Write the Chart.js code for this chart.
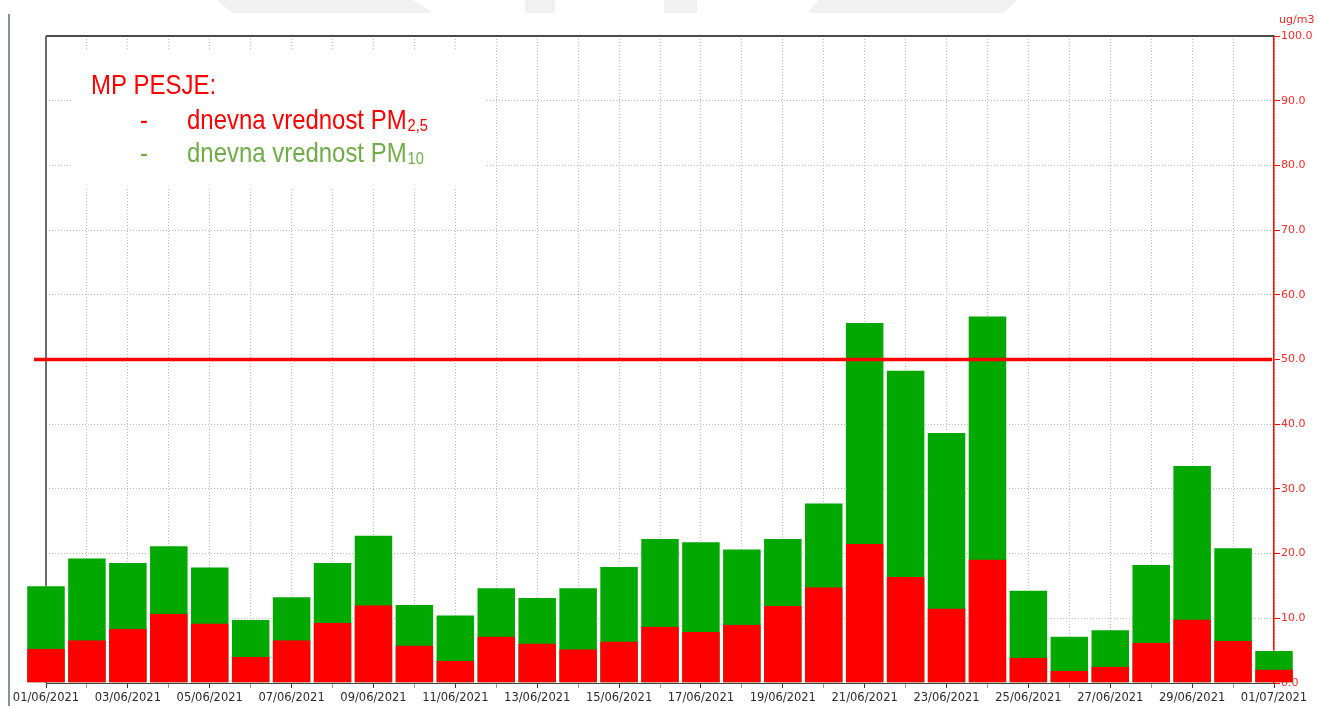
<!DOCTYPE html>
<html>
<head>
<meta charset="utf-8">
<script src="https://cdn.jsdelivr.net/npm/chart.js@4/dist/chart.umd.min.js"></script>
<style>
html,body{margin:0;padding:0;background:#fff;}
#wrap{position:relative;width:1318px;height:706px;}
</style>
</head>
<body>
<div id="wrap"><canvas id="c" width="1318" height="706"></canvas></div>
<script>
const dates = ['01/06/2021','02/06/2021','03/06/2021','04/06/2021','05/06/2021','06/06/2021','07/06/2021','08/06/2021','09/06/2021','10/06/2021','11/06/2021','12/06/2021','13/06/2021','14/06/2021','15/06/2021','16/06/2021','17/06/2021','18/06/2021','19/06/2021','20/06/2021','21/06/2021','22/06/2021','23/06/2021','24/06/2021','25/06/2021','26/06/2021','27/06/2021','28/06/2021','29/06/2021','30/06/2021','01/07/2021'];
const pm10 = [15.1, 19.4, 18.7, 21.3, 18.0, 9.9, 13.4, 18.7, 22.9, 12.2, 10.6, 14.8, 13.3, 14.8, 18.1, 22.4, 21.9, 20.8, 22.4, 27.9, 55.8, 48.4, 38.8, 56.8, 14.4, 7.3, 8.3, 18.4, 33.7, 21.0, 5.1];
const pm25 = [5.3, 6.6, 8.4, 10.7, 9.2, 4.0, 6.6, 9.3, 12.0, 5.8, 3.4, 7.2, 6.1, 5.2, 6.4, 8.7, 7.9, 9.0, 11.9, 14.8, 21.5, 16.4, 11.5, 19.1, 3.9, 1.9, 2.5, 6.2, 9.8, 6.5, 2.1];
const limitValue = 50;
const yTicks = [0,10,20,30,40,50,60,70,80,90,100];
const unitLabel = 'ug/m3';
const legendTitle = 'MP PESJE:';
const legendLines = [
  {text:'dnevna vrednost PM', sub:'2,5', color:'#ff0000'},
  {text:'dnevna vrednost PM', sub:'10', color:'#70ad47'}
];

const decoPlugin = {
  id:'deco',
  beforeDraw(chart){
    const ctx = chart.ctx;
    ctx.save();
    ctx.fillStyle = 'rgba(0,0,0,0.055)';
    const polys = [
      [[217,0],[413,0],[433,13],[232,13]],
      [[525,0],[555,0],[555,13],[525,13]],
      [[664,0],[697,0],[697,13],[664,13]],
      [[819,0],[1017,0],[1004,13],[807,13]]
    ];
    polys.forEach(p=>{ctx.beginPath();ctx.moveTo(p[0][0],p[0][1]);for(let i=1;i<p.length;i++)ctx.lineTo(p[i][0],p[i][1]);ctx.closePath();ctx.fill();});
    ctx.fillStyle = '#8c8f94';
    ctx.fillRect(8,14,2,692);
    ctx.restore();
  },
  beforeDatasetsDraw(chart){
    const ctx = chart.ctx, a = chart.chartArea;
    ctx.save();
    ctx.fillStyle = '#ffffff';
    ctx.fillRect(a.left+26, a.top+15, 413, 138);
    ctx.strokeStyle = '#4a4a4a';
    ctx.lineWidth = 2;
    ctx.beginPath();
    ctx.moveTo(a.left, a.top); ctx.lineTo(a.right, a.top);
    ctx.stroke();
    ctx.strokeStyle = '#6a6a6a';
    ctx.lineWidth = 2;
    ctx.beginPath();
    ctx.moveTo(a.left, a.top); ctx.lineTo(a.left, a.bottom);
    ctx.stroke();
    ctx.restore();
  },
  afterDatasetsDraw(chart){
    const ctx = chart.ctx, a = chart.chartArea;
    const xs = chart.scales.x, ys = chart.scales.y;
    const yl = ys.getPixelForValue(limitValue);
    ctx.save();
    ctx.strokeStyle = '#ff0000';
    ctx.lineWidth = 3.5;
    ctx.beginPath();
    ctx.moveTo(xs.getPixelForValue(0) - 12, yl);
    ctx.lineTo(a.right - 2, yl);
    ctx.stroke();
    ctx.restore();
  },
  afterDraw(chart){
    const ctx = chart.ctx, a = chart.chartArea;
    ctx.save();
    ctx.fillStyle = '#ff2020';
    ctx.font = '11px "DejaVu Sans"';
    ctx.textBaseline = 'alphabetic';
    ctx.textAlign = 'left';
    ctx.fillText(unitLabel, a.right + 5, 23);
    const sx = 0.855;
    const drawNarrow = (txt, x, y, size, color) => {
      ctx.save();
      ctx.translate(x, y);
      ctx.scale(sx, 1);
      ctx.font = size + 'px "Liberation Sans", Arial, sans-serif';
      ctx.fillStyle = color;
      ctx.textBaseline = 'alphabetic';
      ctx.textAlign = 'left';
      ctx.fillText(txt, 0, 0);
      const w = ctx.measureText(txt).width * sx;
      ctx.restore();
      return w;
    };
    drawNarrow(legendTitle, 91, 94, 28, '#ff0000');
    const bases = [129, 162];
    legendLines.forEach((l, i) => {
      drawNarrow('-', 140, bases[i], 28, l.color);
      const w = drawNarrow(l.text, 187, bases[i], 28, l.color);
      drawNarrow(l.sub, 187 + w + 1, bases[i] + 2, 17, l.color);
    });
    ctx.restore();
  }
};

new Chart(document.getElementById('c'), {
  type:'bar',
  data:{
    labels: dates,
    datasets:[
      {label:'PM2,5', data: pm25, backgroundColor:'#ff0000', borderColor:'rgba(255,255,255,0.35)', borderWidth:{left:1,right:1,top:0,bottom:0}, borderSkipped:false, barPercentage:0.965, categoryPercentage:1, clip:false},
      {label:'PM10', data: pm10, backgroundColor:'#00a800', borderColor:'rgba(255,255,255,0.4)', borderWidth:1, borderSkipped:'bottom', barPercentage:0.965, categoryPercentage:1, clip:false}
    ]
  },
  options:{
    responsive:true,
    maintainAspectRatio:false,
    animation:false,
    devicePixelRatio:1,
    layout:{padding:{left:46, top:36, right:0, bottom:0}},
    plugins:{legend:{display:false}, tooltip:{enabled:false}},
    scales:{
      x:{
        type:'category',
        stacked:true,
        offset:false,
        afterFit(s){ s.height = 23; s.paddingLeft = 0; s.paddingRight = 0; },
        border:{display:true, color:'#444', width:1, dash:[1,2]},
        grid:{
          display:true,
          offset:false,
          color:(c)=> c.index === 0 ? 'rgba(0,0,0,0)' : '#b8b8b8',
          tickBorderDash:[],
          tickColor:(c)=> c.index % 2 === 0 ? '#333' : '#999',
          tickLength:5,
          drawTicks:true
        },
        ticks:{
          autoSkip:false,
          maxRotation:0,
          minRotation:0,
          padding:3,
          color:'#2b2b2b',
          font:{family:'"DejaVu Sans"', size:11.5},
          callback:(v,i)=> i % 2 === 0 ? dates[i] : ''
        }
      },
      y:{
        position:'right',
        min:0, max:100,
        stacked:false,
        afterFit(s){ s.width = 44; s.paddingTop = 0; s.paddingBottom = 0; },
        afterBuildTicks(s){ s.ticks = yTicks.map(v=>({value:v})); },
        border:{display:true, color:'#ff0000', width:1.5, dash:[1,2]},
        grid:{
          color:'#b8b8b8',
          tickBorderDash:[],
          tickColor:'#ff0000',
          tickLength:6,
          drawTicks:true
        },
        ticks:{
          padding:1,
          color:'#ff2a2a',
          font:{family:'"DejaVu Sans"', size:11},
          callback:(v)=> Number(v).toFixed(1)
        }
      }
    }
  },
  plugins:[decoPlugin]
});
</script>
</body>
</html>
